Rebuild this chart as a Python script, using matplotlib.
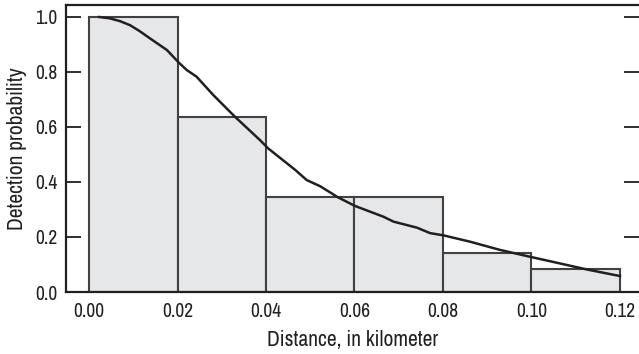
import matplotlib.pyplot as plt
import numpy as np
from matplotlib import font_manager

bin_edges = [0.00, 0.02, 0.04, 0.06, 0.08, 0.10, 0.12]
bar_heights = [1.0, 0.637, 0.347, 0.347, 0.143, 0.084]

curve_x = [0.0023, 0.0047, 0.0070, 0.0093, 0.0115, 0.0138, 0.0176, 0.0203, 0.0221, 0.0243,
           0.0281, 0.0330, 0.0386, 0.0405, 0.0466, 0.0492, 0.0522, 0.0563, 0.0601,
           0.0665, 0.0688, 0.0741, 0.0771, 0.0801, 0.0861, 0.0929, 0.0997, 0.1064,
           0.1125, 0.1200]
curve_y = [1.000, 0.995, 0.985, 0.970, 0.948, 0.922, 0.880, 0.834, 0.807, 0.783,
           0.716, 0.637, 0.553, 0.522, 0.444, 0.407, 0.385, 0.344, 0.313,
           0.274, 0.256, 0.234, 0.214, 0.206, 0.183, 0.153, 0.128, 0.104,
           0.082, 0.058]

x_ticks = [0.00, 0.02, 0.04, 0.06, 0.08, 0.10, 0.12]
y_ticks = [0.0, 0.2, 0.4, 0.6, 0.8, 1.0]

# prefer a condensed face if one is installed
names = sorted({f.name for f in font_manager.fontManager.ttflist})
narrow = [n for n in names if "Narrow" in n or "Condensed" in n]
family = narrow[:1] + ["Liberation Sans", "DejaVu Sans"]
plt.rcParams['font.family'] = family
tick_size = 14 if narrow else 11.5
label_size = 15.5 if narrow else 12.5

fig = plt.figure(figsize=(6.39, 3.54), dpi=100)
ax = fig.add_axes([66 / 639, 1 - 292 / 354, 573 / 639, 287 / 354])

dark = "#231f20"
widths = np.diff(bin_edges)
ax.bar(bin_edges[:-1], bar_heights, width=widths, align="edge",
       color="#e6e7e8", edgecolor="#414042", linewidth=1.5, zorder=2)
ax.plot(curve_x, curve_y, color=dark, linewidth=1.8, zorder=3)

ax.set_xlim(-0.0052, 0.1243)
ax.set_ylim(0, 1.0436)
ax.set_xticks(x_ticks)
ax.set_xticklabels([f"{v:.2f}" for v in x_ticks])
ax.set_yticks(y_ticks)
ax.set_yticklabels([f"{v:.1f}" for v in y_ticks])

for side in ("left", "top", "bottom"):
    ax.spines[side].set_linewidth(1.6)
    ax.spines[side].set_color(dark)
ax.spines["right"].set_visible(False)

ax.tick_params(axis="x", length=0, pad=7, labelsize=tick_size, colors=dark)
ax.tick_params(axis="y", direction="in", length=11, width=1.3, pad=6,
               labelsize=tick_size, colors=dark, right=True)

ax.set_xlabel("Distance, in kilometer", fontsize=label_size, color=dark, labelpad=7)
ax.set_ylabel("Detection probability", fontsize=label_size, color=dark, labelpad=6)

fig.savefig("out.png", dpi=100)
